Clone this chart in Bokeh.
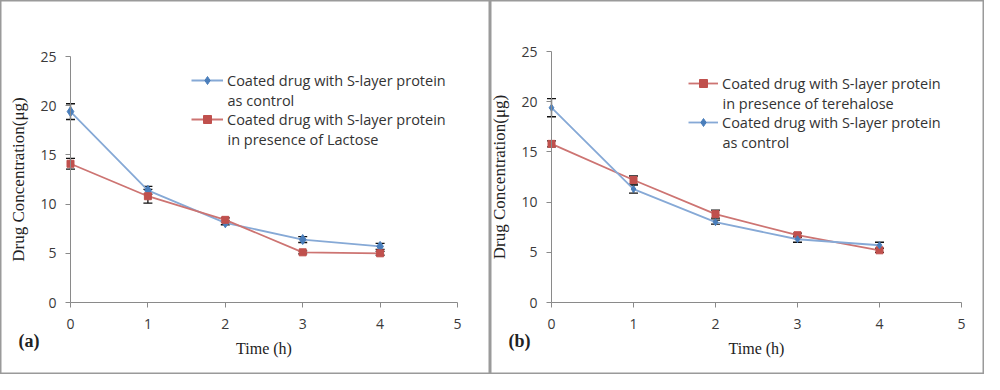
from bokeh.plotting import figure
from bokeh.models import (LinearAxis, FixedTicker, Whisker, TeeHead, ColumnDataSource,
                          Legend, LegendItem, Label, Range1d)
from bokeh.layouts import row
from bokeh.embed import file_html
from bokeh.resources import INLINE

# ---------------- data ----------------
time_h = [0, 1, 2, 3, 4]
x_ticks = [0, 1, 2, 3, 4, 5]
y_ticks = [0, 5, 10, 15, 20, 25]

a_control = [19.4, 11.4, 8.1, 6.4, 5.7]
a_control_err = [0.8, 0.4, 0.2, 0.3, 0.3]
a_lactose = [14.1, 10.8, 8.4, 5.1, 5.0]
a_lactose_err = [0.55, 0.7, 0.2, 0.15, 0.2]

b_trehalose = [15.8, 12.2, 8.8, 6.7, 5.2]
b_trehalose_err = [0.3, 0.4, 0.4, 0.2, 0.2]
b_control = [19.4, 11.3, 8.0, 6.3, 5.7]
b_control_err = [0.9, 0.4, 0.2, 0.3, 0.3]

label_control = ["Coated drug with S-layer protein", "as control"]
label_lactose = ["Coated drug with S-layer protein", "in presence of Lactose"]
label_trehalose = ["Coated drug with S-layer protein", "in presence of terehalose"]

BLUE_LINE = "#86a9d6"
BLUE_MARK = "#4a7ebb"
RED_LINE = "#cd7472"
RED_MARK = "#c0504d"
TICK_FONT = "Open Sans"
SERIF = "Liberation Serif"


def make_panel(width, height, px0, px5, py0, py25, series, tag, leg_x, leg_row1, leg_text_x):
    sx = (px5 - px0) / 5.0
    sy = (py0 - py25) / 25.0
    x_start = -px0 / sx
    x_end = x_start + width / sx
    y_end = 25 + py25 / sy
    y_start = y_end - height / sy

    p = figure(width=width, height=height, output_backend="svg", toolbar_location=None,
               x_range=Range1d(x_start, x_end), y_range=Range1d(y_start, y_end),
               x_axis_location=None, y_axis_location=None, min_border=0)
    p.grid.visible = False
    p.outline_line_color = "#9a9a9a"
    p.outline_line_width = 2
    p.background_fill_color = "white"
    p.border_fill_color = "white"

    xaxis = LinearAxis(fixed_location=0, bounds=(0, 5), ticker=FixedTicker(ticks=x_ticks))
    yaxis = LinearAxis(fixed_location=0, bounds=(0, 25), ticker=FixedTicker(ticks=y_ticks))
    for ax in (xaxis, yaxis):
        ax.axis_line_color = "#8a8a8a"
        ax.major_tick_line_color = "#8a8a8a"
        ax.minor_tick_line_color = None
        ax.major_tick_in = 0
        ax.major_tick_out = 5
        ax.major_label_text_font = TICK_FONT
        ax.major_label_text_font_size = "14px"
        ax.major_label_text_color = "#3a3a3a"
        ax.axis_label_text_font = SERIF
        ax.axis_label_text_font_style = "normal"
        ax.axis_label_text_color = "#222222"
    xaxis.major_label_standoff = 11
    xaxis.axis_label = "Time (h)"
    xaxis.axis_label_text_font_size = "16px"
    xaxis.axis_label_standoff = 8
    yaxis.major_label_standoff = 9
    yaxis.axis_label = "Drug Concentration(\u03bcg)"
    yaxis.axis_label_text_font_size = "17px"
    yaxis.axis_label_standoff = 9
    p.add_layout(xaxis, "below")
    p.add_layout(yaxis, "left")

    items = []
    for vals, errs, lc, mc, marker, msize, lab in series:
        src = ColumnDataSource(dict(x=time_h, y=vals,
                                    upper=[v + e for v, e in zip(vals, errs)],
                                    lower=[v - e for v, e in zip(vals, errs)]))
        w = Whisker(base="x", upper="upper", lower="lower", source=src,
                    line_color="#111111", line_width=1.3,
                    upper_head=TeeHead(size=9, line_color="#111111", line_width=1.3),
                    lower_head=TeeHead(size=9, line_color="#111111", line_width=1.3))
        p.add_layout(w)
        lr = p.line("x", "y", source=src, line_color=lc, line_width=1.8)
        sr = p.scatter("x", "y", source=src, marker=marker, size=msize,
                       fill_color=mc, line_color=mc)
        items.append((lab, [lr, sr]))

    row_gap = 39
    legend = Legend(items=[LegendItem(label=lab[0], renderers=rs) for lab, rs in items],
                    location=(leg_x, height - (leg_row1 - 10) - (2 * 20 + row_gap - 20)),
                    padding=0, spacing=row_gap - 20, margin=0,
                    label_height=20, glyph_height=20, glyph_width=leg_text_x - leg_x - 4,
                    label_standoff=4, border_line_alpha=0, background_fill_alpha=0,
                    label_text_font=TICK_FONT, label_text_font_size="14.5px",
                    label_text_color="#333333")
    p.add_layout(legend, "center")
    for i, (lab, rs) in enumerate(items):
        p.add_layout(Label(x=leg_text_x, y=height - (leg_row1 + i * row_gap + 20),
                           x_units="screen", y_units="screen", text=lab[1],
                           text_font=TICK_FONT, text_font_size="14.5px",
                           text_color="#333333", text_baseline="middle"))

    p.add_layout(Label(x=18, y=height - 340, x_units="screen", y_units="screen",
                       text=tag, text_font=SERIF, text_font_size="18px",
                       text_font_style="bold", text_color="#222222",
                       text_baseline="middle"))
    return p


H = 374
pa = make_panel(490, H, 70, 457, 302, 56,
                [(a_control, a_control_err, BLUE_LINE, BLUE_MARK, "diamond", 10, label_control),
                 (a_lactose, a_lactose_err, RED_LINE, RED_MARK, "square", 7, label_lactose)],
                "(a)", 191, 80, 227)
pb = make_panel(494, H, 61, 471, 302, 51,
                [(b_trehalose, b_trehalose_err, RED_LINE, RED_MARK, "square", 7, label_trehalose),
                 (b_control, b_control_err, BLUE_LINE, BLUE_MARK, "diamond", 7, label_control)],
                "(b)", 198, 83, 232)

layout = row(pa, pb)
open("out.html", "w").write(file_html(layout, INLINE))
